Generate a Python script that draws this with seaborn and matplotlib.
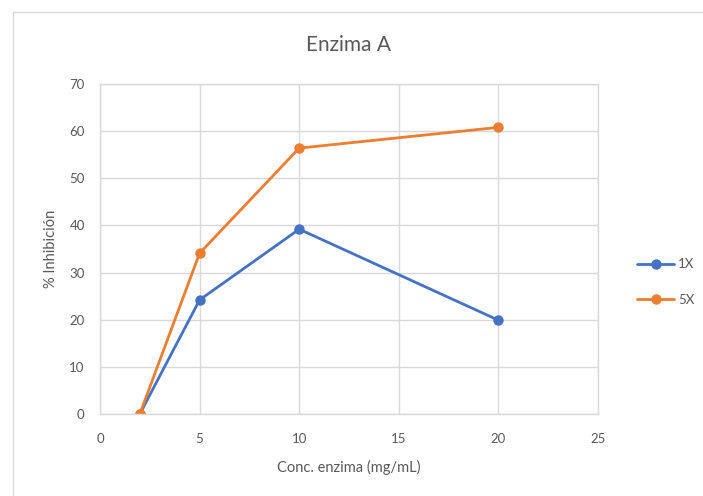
import matplotlib
matplotlib.use("Agg")
import matplotlib.pyplot as plt
import seaborn as sns
import pandas as pd
from matplotlib.lines import Line2D

conc = [2, 5, 10, 20]
inh_1x = [0, 24.2, 39.2, 19.9]
inh_5x = [0, 34.1, 56.4, 60.8]
series_names = ["1X", "5X"]
colors = ["#4472C4", "#ED7D31"]
title = "Enzima A"
xlabel = "Conc. enzima (mg/mL)"
ylabel = "% Inhibición"

df = pd.DataFrame({
    "conc": conc * 2,
    "inh": inh_1x + inh_5x,
    "serie": [series_names[0]] * len(conc) + [series_names[1]] * len(conc),
})

sns.set_theme(style="white")
plt.rcParams["font.family"] = ["Lato", "DejaVu Sans"]
txt = "#595959"
grid = "#D9D9D9"

fig = plt.figure(figsize=(7.03, 4.96), dpi=100)
ax = fig.add_axes([100 / 703, 1 - 414 / 496, 498 / 703, 330 / 496])

sns.lineplot(data=df, x="conc", y="inh", hue="serie", palette=colors,
             marker="o", markersize=7.5, markeredgewidth=0, linewidth=2,
             ax=ax, legend=False, sort=False)

ax.set_xlim(0, 25)
ax.set_ylim(0, 70)
ax.set_xticks(range(0, 26, 5))
ax.set_yticks(range(0, 71, 10))
ax.grid(True, color=grid, linewidth=1)
ax.set_axisbelow(True)
for s in ax.spines.values():
    s.set_color(grid)
    s.set_linewidth(1)
ax.tick_params(axis="x", length=0, labelsize=9.5, colors=txt, pad=14)
ax.tick_params(axis="y", length=0, labelsize=9.5, colors=txt, pad=11)
for lab in ax.get_xticklabels() + ax.get_yticklabels():
    lab.set_color(txt)
ax.set_xlabel(xlabel, fontsize=10.5, color=txt, labelpad=10.5)
ax.set_ylabel(ylabel, fontsize=10.5, color=txt, labelpad=8)
fig.text(0.5 * (100 + 598) / 703, 1 - 45 / 496, title, fontsize=15,
         color=txt, ha="center", va="center")

# outer chart border (top and left visible)
fig.add_artist(Line2D([13 / 703, 702 / 703], [1 - 12 / 496, 1 - 12 / 496],
                      transform=fig.transFigure, color="#D9D9D9", linewidth=1))
fig.add_artist(Line2D([13 / 703, 13 / 703], [1 - 12 / 496, 0],
                      transform=fig.transFigure, color="#D9D9D9", linewidth=1))

handles = [Line2D([0], [0], color=c, marker="o", markersize=7.5,
                  markeredgewidth=0, linewidth=2) for c in colors]
leg = fig.legend(handles, series_names, loc="center left",
                 bbox_to_anchor=(632 / 703, 1 - 282 / 496), frameon=False,
                 fontsize=9.5, handlelength=2.8, handletextpad=0.3,
                 labelspacing=1.75, borderaxespad=0)
for t in leg.get_texts():
    t.set_color(txt)

fig.savefig("out.png", dpi=100)
